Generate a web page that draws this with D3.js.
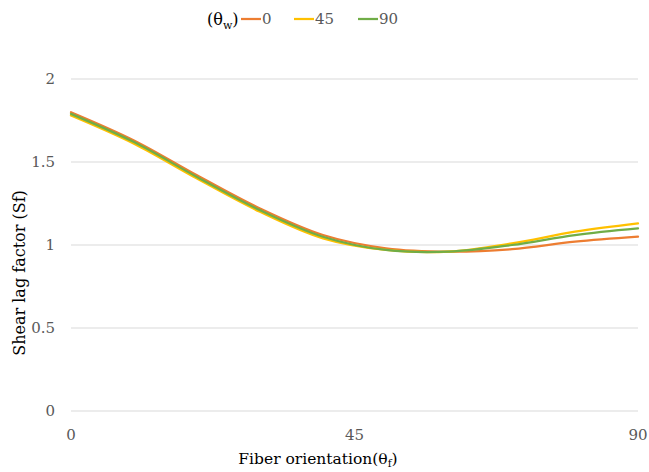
<!DOCTYPE html>
<html><head><meta charset="utf-8">
<script src="https://cdn.jsdelivr.net/npm/d3@7"></script>
<style>body{margin:0;background:#fff}svg{display:block}</style>
</head><body><svg id="c" width="649" height="472"></svg>
<script>
const theta = [0,10,20,30,40,50,60,70,80,90];
const s0  = [1.80,1.63,1.42,1.22,1.06,0.98,0.96,0.975,1.02,1.05];
const s45 = [1.78,1.61,1.40,1.20,1.04,0.97,0.96,1.01,1.08,1.13];
const s90 = [1.79,1.62,1.41,1.21,1.05,0.97,0.96,1.00,1.06,1.10];
const seriesNames = ["0","45","90"];
const colors = ["#ED7D31","#FFC000","#70AD47"];
const yTicks = [0,0.5,1,1.5,2];
const xTicks = [0,45,90];

const svg = d3.select("#c");
const font = "'DejaVu Serif', serif";
const x = d3.scaleLinear().domain([0,90]).range([71,638]);
const y = d3.scaleLinear().domain([0,2]).range([411,79]);

// gridlines
svg.append("g").selectAll("line").data(yTicks).join("line")
  .attr("x1",x(0)).attr("x2",x(90)).attr("y1",d=>y(d)).attr("y2",d=>y(d))
  .attr("stroke","#d9d9d9").attr("stroke-width",1);

// y tick labels
svg.append("g").selectAll("text").data(yTicks).join("text")
  .attr("x",55).attr("y",d=>y(d)).attr("dy","0.35em").attr("text-anchor","end")
  .attr("font-family",font).attr("font-size",15).attr("fill","#595959").text(d=>d);
// x tick labels
svg.append("g").selectAll("text").data(xTicks).join("text")
  .attr("x",d=>x(d)).attr("y",435).attr("dy","0.35em").attr("text-anchor","middle")
  .attr("font-family",font).attr("font-size",15).attr("fill","#595959").text(d=>d);

// lines
const all = [s0,s45,s90];
const line = d3.line().x((d,i)=>x(theta[i])).y(d=>y(d)).curve(d3.curveCatmullRom.alpha(0.5));
all.forEach((s,k)=>{
  svg.append("path").datum(s).attr("d",line).attr("fill","none")
    .attr("stroke",colors[k]).attr("stroke-width",2.25).attr("stroke-linecap","round");
});

// axis titles
svg.append("text").attr("transform","translate(19,273) rotate(-90)").attr("text-anchor","middle")
  .attr("dy","0.35em")
  .attr("font-family",font).attr("font-size",16).attr("fill","#000").text("Shear lag factor (Sf)");
const xt = svg.append("text").attr("x",318).attr("y",459).attr("dy","0.35em").attr("text-anchor","middle")
  .attr("font-family",font).attr("font-size",15.5).attr("fill","#000");
xt.append("tspan").text("Fiber orientation(θ");
xt.append("tspan").attr("font-size",10.5).attr("dy",3).text("f");
xt.append("tspan").attr("dy",-3).text(")");

// legend
const lg = svg.append("g");
const lt = lg.append("text").attr("x",207).attr("y",19).attr("dy","0.35em")
  .attr("font-family",font).attr("font-size",16).attr("fill","#000");
lt.append("tspan").text("(θ");
lt.append("tspan").attr("font-size",11).attr("dy",4).text("w");
lt.append("tspan").attr("dy",-4).text(")");
const lx = [241,294,358];
seriesNames.forEach((n,k)=>{
  lg.append("line").attr("x1",lx[k]).attr("x2",lx[k]+20).attr("y1",19).attr("y2",19)
    .attr("stroke",colors[k]).attr("stroke-width",2.25);
  lg.append("text").attr("x",lx[k]+21).attr("y",19).attr("dy","0.35em")
    .attr("font-family",font).attr("font-size",15).attr("fill","#595959").text(n);
});
</script></body></html>
